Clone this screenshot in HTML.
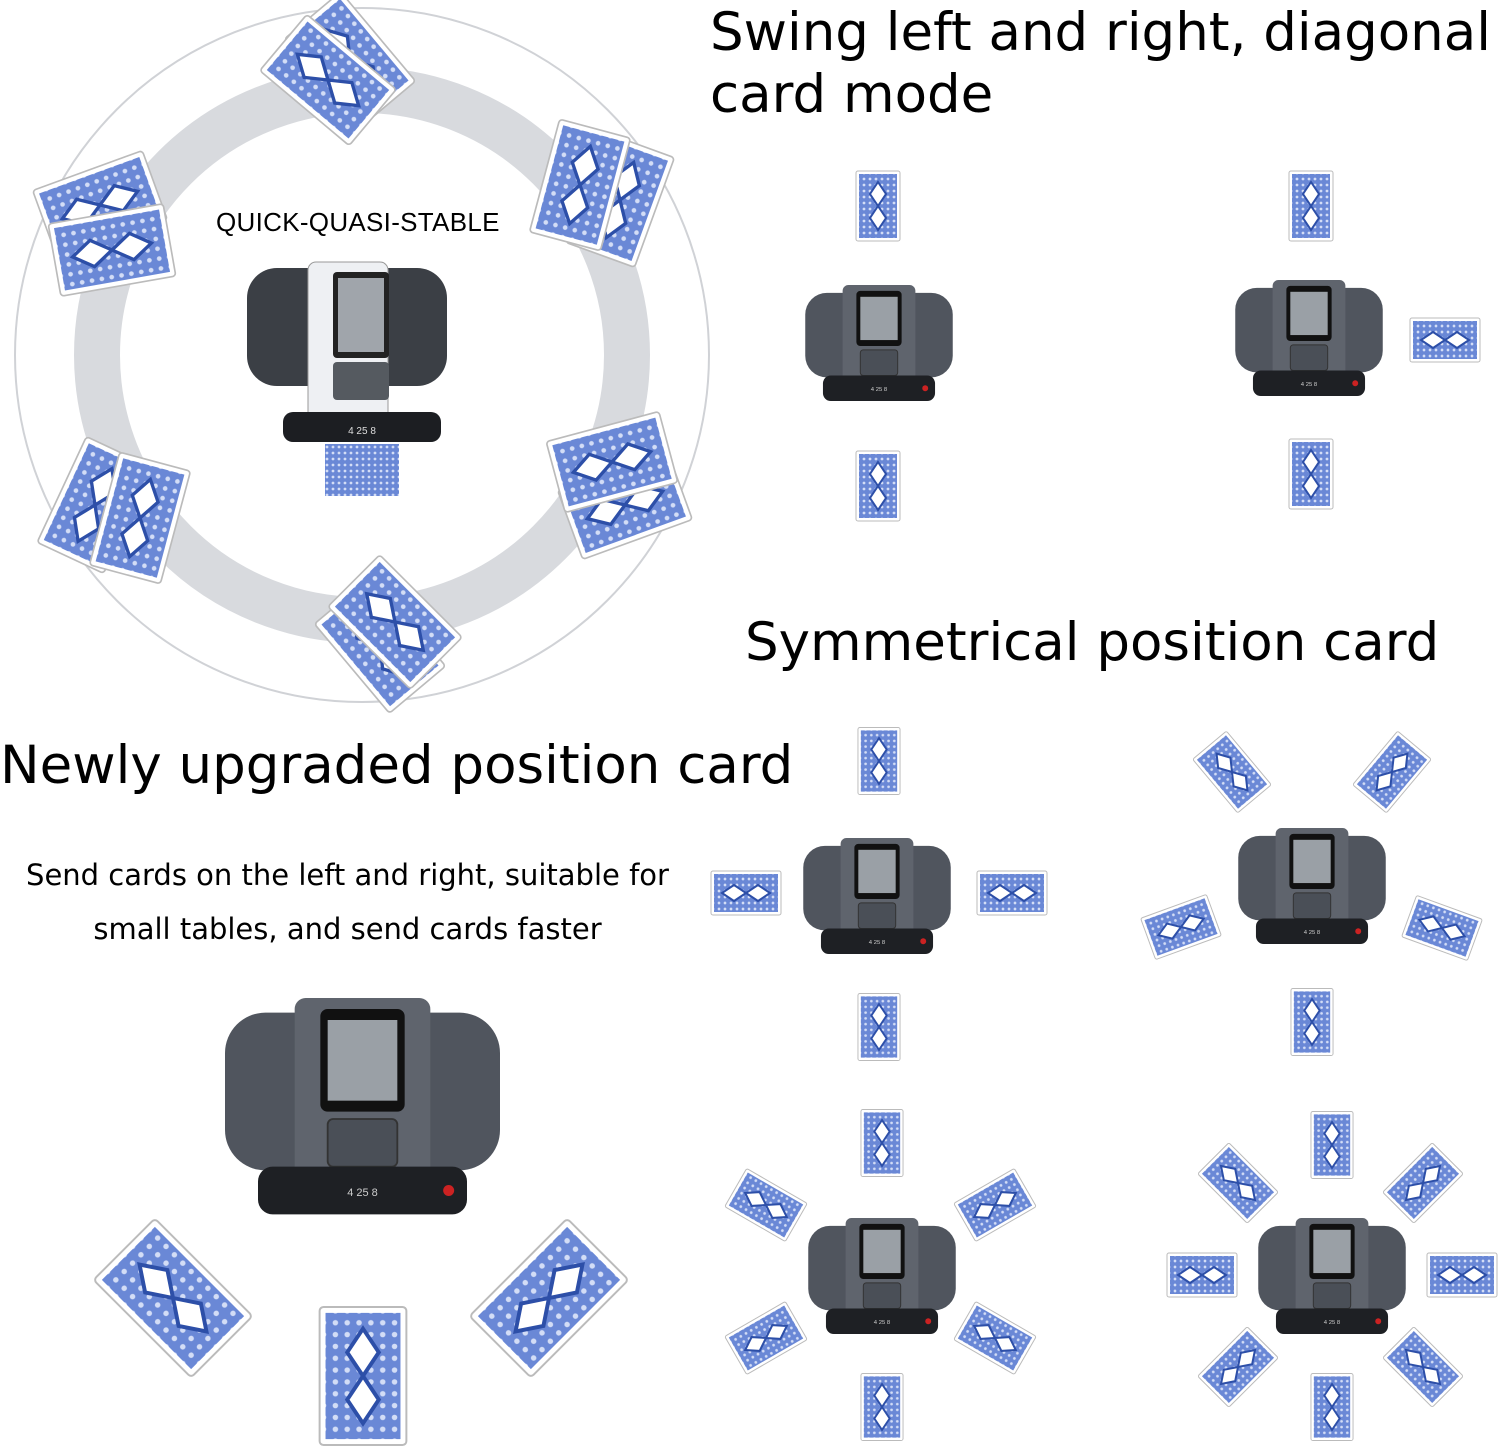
<!DOCTYPE html>
<html><head><meta charset="utf-8"><style>
html,body{margin:0;padding:0;background:#fff}
body{width:1500px;height:1453px;position:relative;overflow:hidden;font-family:"DejaVu Sans","Liberation Sans",sans-serif}
.t{position:absolute;color:#000;white-space:nowrap}
</style></head><body>
<svg width="1500" height="1453" viewBox="0 0 1500 1453" style="position:absolute;left:0;top:0">
<defs>
<pattern id="p" width="6" height="6" patternUnits="userSpaceOnUse">
<rect width="6" height="6" fill="#6a88d6"/><circle cx="3" cy="3" r="1.4" fill="#d3ddf6"/>
</pattern>
<symbol id="cv" viewBox="0 0 46 72">
<rect x="1" y="1" width="44" height="70" rx="2" fill="#fff" stroke="#bbb" stroke-width="1"/>
<rect x="4" y="4" width="38" height="64" fill="url(#p)"/>
<path d="M23 12 L31 24 L23 36 L15 24Z M23 36 L31 48 L23 60 L15 48Z" fill="#fff" stroke="#2d4fa8" stroke-width="2"/>
</symbol>
<symbol id="dev" viewBox="0 0 150 120">
<rect x="0" y="8" width="150" height="86" rx="22" fill="#50555e"/>
<rect x="38" y="0" width="74" height="100" rx="6" fill="#5f646d"/>
<rect x="52" y="6" width="46" height="56" rx="4" fill="#111"/>
<rect x="56" y="12" width="38" height="44" fill="#9aa0a6"/>
<rect x="56" y="66" width="38" height="26" rx="3" fill="#4a4f57" stroke="#333"/>
<rect x="18" y="92" width="114" height="26" rx="8" fill="#1e2024"/>
<text x="75" y="108" font-size="6" fill="#ccc" text-anchor="middle" font-family="Liberation Sans">4 25 8</text>
<circle cx="122" cy="105" r="3" fill="#c22"/>
</symbol>
</defs>
<circle cx="362" cy="355" r="347" fill="none" stroke="#d0d2d6" stroke-width="2"/>
<circle cx="362" cy="355" r="265" fill="none" stroke="#d8dade" stroke-width="46"/>
<rect x="247" y="268" width="200" height="118" rx="30" fill="#3b3f45"/>
<rect x="308" y="262" width="80" height="160" rx="8" fill="#eef0f3" stroke="#999"/>
<rect x="333" y="272" width="56" height="86" rx="4" fill="#222"/>
<rect x="338" y="278" width="46" height="74" fill="#a0a5ab"/>
<rect x="333" y="362" width="56" height="38" rx="4" fill="#555a60"/>
<rect x="283" y="412" width="158" height="30" rx="10" fill="#1c1e22"/>
<text x="362" y="434" font-size="10" fill="#ddd" text-anchor="middle" font-family="Liberation Sans">4 25 8</text>
<rect x="325" y="444" width="74" height="52" fill="url(#p)"/>
<!-- circle card pairs -->
<use href="#cv" x="-40" y="-60" width="80" height="120" transform="translate(350,60) rotate(-40)"/>
<use href="#cv" x="-40" y="-60" width="80" height="120" transform="translate(328,80) rotate(-50)"/>
<use href="#cv" x="-40" y="-60" width="80" height="120" transform="translate(620,200) rotate(20)"/>
<use href="#cv" x="-40" y="-60" width="80" height="120" transform="translate(580,185) rotate(15)"/>
<use href="#cv" x="-40" y="-60" width="80" height="120" transform="translate(100,205) rotate(70)"/>
<use href="#cv" x="-40" y="-60" width="80" height="120" transform="translate(112,250) rotate(80)"/>
<use href="#cv" x="-40" y="-60" width="80" height="120" transform="translate(625,505) rotate(70)"/>
<use href="#cv" x="-40" y="-60" width="80" height="120" transform="translate(612,462) rotate(75)"/>
<use href="#cv" x="-40" y="-60" width="80" height="120" transform="translate(95,505) rotate(25)"/>
<use href="#cv" x="-40" y="-60" width="80" height="120" transform="translate(140,518) rotate(15)"/>
<use href="#cv" x="-40" y="-60" width="80" height="120" transform="translate(380,645) rotate(-40)"/>
<use href="#cv" x="-40" y="-60" width="80" height="120" transform="translate(395,622) rotate(-45)"/>
<!-- panel 1 -->
<use href="#dev" x="805" y="285" width="148" height="118"/>
<use href="#cv" x="855" y="170" width="46" height="72"/>
<use href="#cv" x="855" y="450" width="46" height="72"/>
<!-- panel 2 -->
<use href="#dev" x="1235" y="280" width="148" height="118"/>
<use href="#cv" x="1288" y="170" width="46" height="72"/>
<use href="#cv" x="1288" y="438" width="46" height="72"/>
<use href="#cv" x="-23" y="-36" width="46" height="72" transform="translate(1445,340) rotate(90)"/>
<!-- panel 3 -->
<use href="#dev" x="803" y="838" width="148" height="118"/>
<use href="#cv" x="857" y="726" width="44" height="70"/>
<use href="#cv" x="857" y="992" width="44" height="70"/>
<use href="#cv" x="-23" y="-36" width="46" height="72" transform="translate(746,893) rotate(90)"/>
<use href="#cv" x="-23" y="-36" width="46" height="72" transform="translate(1012,893) rotate(90)"/>
<!-- panel 4 -->
<use href="#dev" x="1238" y="828" width="148" height="118"/>
<use href="#cv" x="1290" y="987" width="44" height="70"/>
<use href="#cv" x="-23" y="-36" width="46" height="72" transform="translate(1232,772) rotate(-40)"/>
<use href="#cv" x="-23" y="-36" width="46" height="72" transform="translate(1392,772) rotate(40)"/>
<use href="#cv" x="-23" y="-36" width="46" height="72" transform="translate(1181,927) rotate(70)"/>
<use href="#cv" x="-23" y="-36" width="46" height="72" transform="translate(1442,928) rotate(-70)"/>
<!-- panel 5 -->
<use href="#dev" x="808" y="1218" width="148" height="118"/>
<use href="#cv" x="860" y="1108" width="44" height="70"/>
<use href="#cv" x="860" y="1372" width="44" height="70"/>
<use href="#cv" x="-23" y="-36" width="46" height="72" transform="translate(766,1205) rotate(-60)"/>
<use href="#cv" x="-23" y="-36" width="46" height="72" transform="translate(995,1205) rotate(60)"/>
<use href="#cv" x="-23" y="-36" width="46" height="72" transform="translate(766,1338) rotate(60)"/>
<use href="#cv" x="-23" y="-36" width="46" height="72" transform="translate(995,1338) rotate(-60)"/>
<!-- panel 6 -->
<use href="#dev" x="1258" y="1218" width="148" height="118"/>
<use href="#cv" x="1310" y="1110" width="44" height="70"/>
<use href="#cv" x="1310" y="1372" width="44" height="70"/>
<use href="#cv" x="-23" y="-36" width="46" height="72" transform="translate(1202,1275) rotate(90)"/>
<use href="#cv" x="-23" y="-36" width="46" height="72" transform="translate(1462,1275) rotate(90)"/>
<use href="#cv" x="-23" y="-36" width="46" height="72" transform="translate(1238,1183) rotate(-45)"/>
<use href="#cv" x="-23" y="-36" width="46" height="72" transform="translate(1423,1183) rotate(45)"/>
<use href="#cv" x="-23" y="-36" width="46" height="72" transform="translate(1238,1367) rotate(45)"/>
<use href="#cv" x="-23" y="-36" width="46" height="72" transform="translate(1423,1367) rotate(-45)"/>
<!-- large -->
<use href="#dev" x="225" y="998" width="275" height="220"/>
<use href="#cv" x="317" y="1305" width="92" height="142"/>
<use href="#cv" x="-46" y="-71" width="92" height="142" transform="translate(173,1298) rotate(-45)"/>
<use href="#cv" x="-46" y="-71" width="92" height="142" transform="translate(549,1298) rotate(45)"/>
</svg>
<div class="t" style="left:710px;top:2px;font-size:53px;line-height:62px">Swing left and right, diagonal<br>card mode</div>
<div class="t" style="left:216px;top:207px;font-size:26px;font-family:'Liberation Sans',sans-serif;letter-spacing:0.3px">QUICK-QUASI-STABLE</div>
<div class="t" style="left:745px;top:612px;font-size:53px">Symmetrical position card</div>
<div class="t" style="left:0px;top:735px;font-size:53px">Newly upgraded position card</div>
<div class="t" style="left:0;width:695px;top:848px;font-size:29px;line-height:54px;text-align:center;white-space:normal">Send cards on the left and right, suitable for<br>small tables, and send cards faster</div>
</body></html>
